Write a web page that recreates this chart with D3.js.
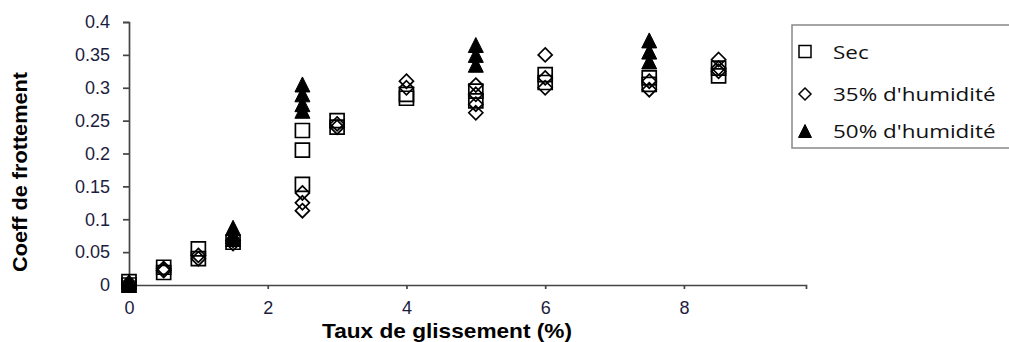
<!DOCTYPE html>
<html>
<head>
<meta charset="utf-8">
<script src="https://cdn.jsdelivr.net/npm/d3@7"></script>
<style>
  body { margin: 0; background: #fff; }
  svg { display: block; }
</style>
</head>
<body>
<div id="chart"></div>
<script>
// values
const secX = [0, 0, 0.5, 0.5, 1, 1, 1.5, 2.5, 2.5, 2.5, 3, 3, 4, 4, 5, 5, 6, 6, 7.5, 7.5, 8.5, 8.5];
const secY = [0, 0.005, 0.019, 0.027, 0.055, 0.04, 0.065, 0.235, 0.205, 0.153, 0.25, 0.24, 0.284, 0.29, 0.295, 0.28, 0.32, 0.308, 0.315, 0.305, 0.33, 0.318];

const hum35X = [0, 0, 0.5, 0.5, 1, 1, 1.5, 1.5, 2.5, 2.5, 2.5, 3, 3, 4, 4, 5, 5, 5, 5, 6, 6, 6, 7.5, 7.5, 8.5, 8.5, 8.5];
const hum35Y = [0, 0.003, 0.022, 0.025, 0.045, 0.04, 0.063, 0.068, 0.14, 0.125, 0.113, 0.245, 0.24, 0.31, 0.3, 0.304, 0.29, 0.275, 0.262, 0.35, 0.315, 0.3, 0.31, 0.297, 0.343, 0.33, 0.325];

const hum50X = [0, 0, 1.5, 1.5, 1.5, 2.5, 2.5, 2.5, 2.5, 5, 5, 5, 7.5, 7.5, 7.5];
const hum50Y = [0, 0.004, 0.087, 0.077, 0.07, 0.305, 0.29, 0.275, 0.265, 0.365, 0.35, 0.335, 0.372, 0.355, 0.34];

const xTicks = [0, 2, 4, 6, 8];
const yTicks = [0, 0.05, 0.1, 0.15, 0.2, 0.25, 0.3, 0.35, 0.4];
const seriesNames = ["Sec", "35% d'humidité", "50% d'humidité"];

const width = 1009, height = 342;
const tickColor = "#1c1c40";

const svg = d3.select("#chart")
    .append("svg")
    .attr("width", width)
    .attr("height", height);

const x = d3.scaleLinear()
    .domain([0, 9.76])
    .range([129, 806]);

const y = d3.scaleLinear()
    .domain([0, 0.4])
    .range([285, 22]);

// axes
const yAxis = svg.append("g")
    .attr("transform", "translate(129,0)")
    .call(d3.axisLeft(y).tickValues(yTicks).tickSize(6).tickPadding(13)
        .tickFormat(d => d3.format("~g")(+d.toFixed(2))));

const xAxis = svg.append("g")
    .attr("transform", "translate(0,285)")
    .call(d3.axisBottom(x).tickValues(xTicks).tickSize(4).tickPadding(12));

[xAxis, yAxis].forEach(g => {
    g.select(".domain").attr("stroke", "#444").attr("stroke-width", 1.7);
    g.selectAll(".tick line").attr("stroke", "#444").attr("stroke-width", 1.7);
    g.selectAll(".tick text")
        .attr("fill", tickColor)
        .style("font-family", "'Liberation Sans', Arial, sans-serif")
        .style("font-size", "18px");
});

// titles
svg.append("text")
    .attr("x", 447)
    .attr("y", 338)
    .attr("text-anchor", "middle")
    .attr("textLength", 250)
    .attr("lengthAdjust", "spacingAndGlyphs")
    .style("font-family", "'Liberation Sans', Arial, sans-serif")
    .style("font-weight", "bold")
    .style("font-size", "21px")
    .text("Taux de glissement (%)");

svg.append("text")
    .attr("transform", "translate(27,172) rotate(-90)")
    .attr("text-anchor", "middle")
    .attr("textLength", 200)
    .attr("lengthAdjust", "spacingAndGlyphs")
    .style("font-family", "'Liberation Sans', Arial, sans-serif")
    .style("font-weight", "bold")
    .style("font-size", "20px")
    .text("Coeff de frottement");

// marker shapes
function squarePath(s) { return `M${-s/2},${-s/2}h${s}v${s}h${-s}Z`; }
function diamondPath(s) { return `M0,${-s/2}L${s/2},0L0,${s/2}L${-s/2},0Z`; }
function trianglePath(s) { return `M0,${-s/2}L${s/2},${s/2}L${-s/2},${s/2}Z`; }

const zip = (xs, ys) => xs.map((v, i) => ({x: v, y: ys[i]}));

svg.append("g").selectAll("path")
    .data(zip(secX, secY))
    .enter().append("path")
    .attr("transform", d => `translate(${x(d.x)},${y(d.y)})`)
    .attr("d", squarePath(14))
    .attr("fill", "none")
    .attr("stroke", "#000")
    .attr("stroke-width", 1.7);

svg.append("g").selectAll("path")
    .data(zip(hum35X, hum35Y))
    .enter().append("path")
    .attr("transform", d => `translate(${x(d.x)},${y(d.y)})`)
    .attr("d", diamondPath(14))
    .attr("fill", "none")
    .attr("stroke", "#000")
    .attr("stroke-width", 1.7);

svg.append("g").selectAll("path")
    .data(zip(hum50X, hum50Y))
    .enter().append("path")
    .attr("transform", d => `translate(${x(d.x)},${y(d.y)})`)
    .attr("d", trianglePath(15))
    .attr("fill", "#000")
    .attr("stroke", "#000")
    .attr("stroke-width", 1);

// legend
const legend = svg.append("g");
legend.append("rect")
    .attr("x", 792)
    .attr("y", 25)
    .attr("width", 240)
    .attr("height", 123)
    .attr("fill", "#fff")
    .attr("stroke", "#888")
    .attr("stroke-width", 1.5);

const legendShapes = [squarePath(12), diamondPath(12), trianglePath(13)];
const legendFill = ["none", "none", "#000"];
const legendY = [51.5, 94, 131];

seriesNames.forEach((name, i) => {
    legend.append("path")
        .attr("transform", `translate(805,${legendY[i]})`)
        .attr("d", legendShapes[i])
        .attr("fill", legendFill[i])
        .attr("stroke", "#000")
        .attr("stroke-width", i === 2 ? 1 : 1.5);
    const t = legend.append("text")
        .attr("x", 833)
        .attr("y", legendY[i] + 7)
        .style("font-family", "'Open Sans', sans-serif")
        .style("font-size", "19px")
        .attr("fill", "#111")
        .text(name);
    const w = t.node().getComputedTextLength();
    t.attr("textLength", w * 1.18).attr("lengthAdjust", "spacingAndGlyphs");
});
</script>
</body>
</html>
